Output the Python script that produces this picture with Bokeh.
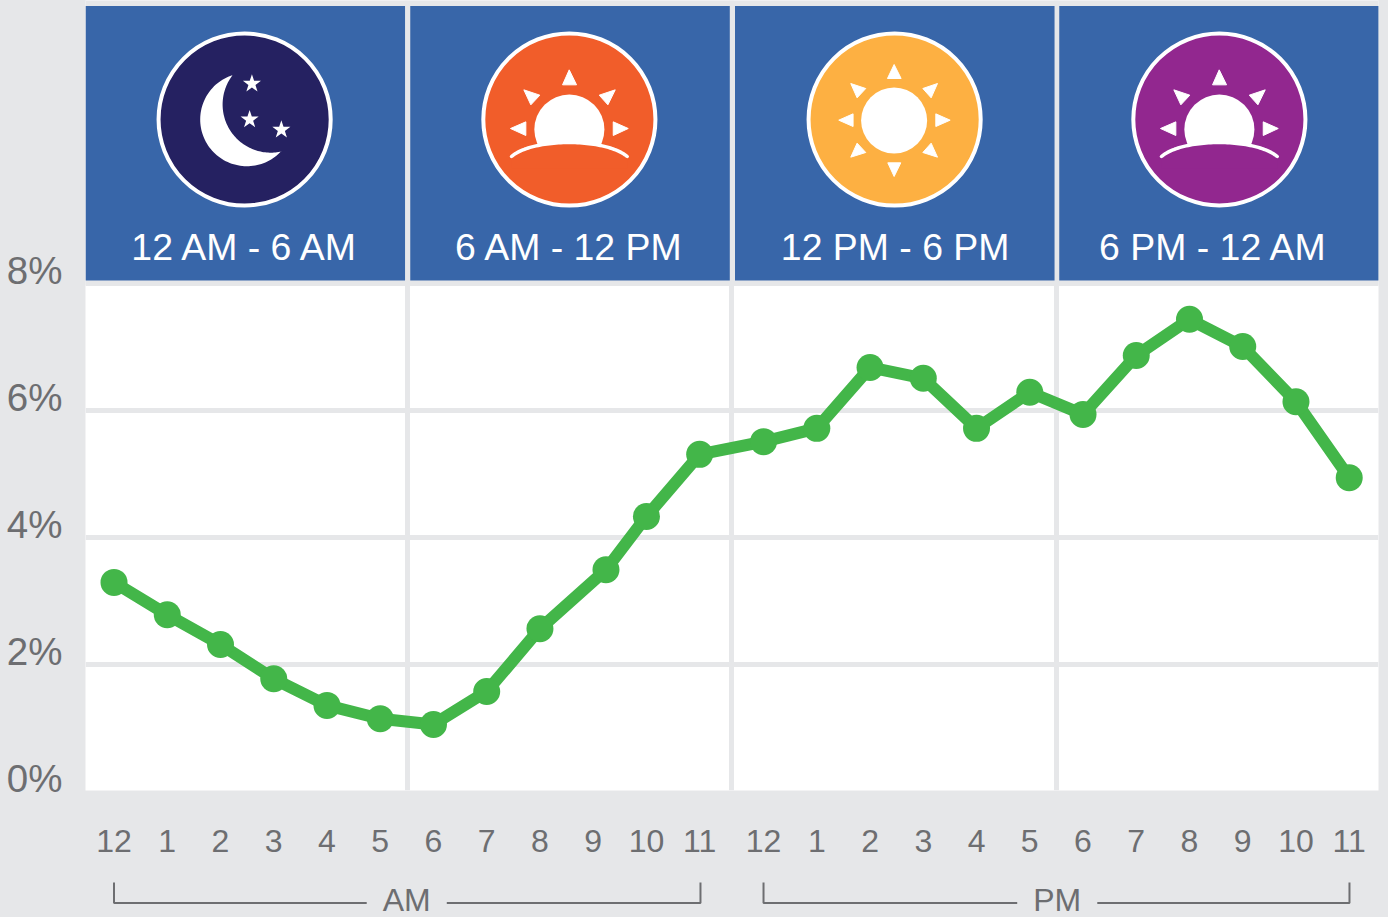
import numpy as np
from bokeh.plotting import figure
from bokeh.layouts import column
from bokeh.models import (Range1d, LinearAxis, FixedTicker, Grid)
from bokeh.core.properties import value
from bokeh.embed import file_html
from bokeh.resources import INLINE

# ---------- data ----------
hour_slots = [0, 1, 2, 3, 4, 5, 6, 7, 8, 9.24, 10, 11,
              12.2, 13.2, 14.2, 15.2, 16.2, 17.2, 18.2, 19.2, 20.2, 21.2, 22.2, 23.2]
share_pct = [3.29, 2.78, 2.31, 1.77, 1.35, 1.14, 1.05, 1.57, 2.56, 3.49, 4.33, 5.31,
             5.51, 5.72, 6.68, 6.51, 5.72, 6.29, 5.94, 6.87, 7.44, 7.01, 6.14, 4.94]
tick_slots = [0, 1, 2, 3, 4, 5, 6, 7, 8, 9, 10, 11,
              12.2, 13.2, 14.2, 15.2, 16.2, 17.2, 18.2, 19.2, 20.2, 21.2, 22.2, 23.2]
tick_labels = ["12", "1", "2", "3", "4", "5", "6", "7", "8", "9", "10", "11",
               "12", "1", "2", "3", "4", "5", "6", "7", "8", "9", "10", "11"]
y_ticks = [0, 2, 4, 6, 8]
period_labels = ["12 AM - 6 AM", "6 AM - 12 PM", "12 PM - 6 PM", "6 PM - 12 AM"]
period_colors = ["#252161", "#F15D2A", "#FDB042", "#92278F"]
period_breaks = [5.51, 11.6, 17.7]
meridiem_labels = ["AM", "PM"]

GRAY = "#E6E7E9"; BLUE = "#3866A9"; TEXT = "#6D6E71"; GREEN = "#43B649"; FONT = "Liberation Sans"

PXX, PXY = "pxx", "pxy"
x_main = Range1d((86 - 114.5) / 53.2, (1378 - 114.5) / 53.2)
p = figure(width=1388, height=870, output_backend="svg", toolbar_location=None,
           x_range=x_main,
           y_range=Range1d((790.5 - 790) / 63.4, 790.5 / 63.4),
           x_axis_location=None, y_axis_location=None,
           min_border_left=85, min_border_right=10, min_border_top=0, min_border_bottom=80,
           background_fill_color="white", border_fill_color=GRAY, outline_line_color=None)
p.extra_x_ranges = {PXX: Range1d(86, 1378)}
p.extra_y_ranges = {PXY: Range1d(790, 0), "lab": Range1d((777.5 - 790) / 63.4, 777.5 / 63.4)}

# grid
p.grid.visible = False
p.add_layout(Grid(dimension=0, ticker=FixedTicker(ticks=period_breaks), grid_line_color=GRAY, grid_line_width=5))
p.add_layout(Grid(dimension=1, ticker=FixedTicker(ticks=y_ticks[1:]), grid_line_color=GRAY, grid_line_width=5))

# axes
ax_y = LinearAxis(y_range_name="lab", ticker=FixedTicker(ticks=y_ticks),
                  major_label_overrides={v: f"{v}%" for v in y_ticks},
                  axis_line_color=None, major_tick_line_color=None, minor_tick_line_color=None,
                  major_tick_out=0, major_tick_in=0, minor_tick_out=0, minor_tick_in=0,
                  major_label_text_color=TEXT, major_label_text_font=FONT,
                  major_label_text_font_size="38.5px", major_label_standoff=23)
p.add_layout(ax_y, "left")
ax_x = LinearAxis(ticker=FixedTicker(ticks=tick_slots),
                  major_label_overrides=dict(zip(tick_slots, tick_labels)),
                  axis_line_color=None, major_tick_line_color=None, minor_tick_line_color=None,
                  major_tick_out=0, major_tick_in=0, minor_tick_out=0, minor_tick_in=0,
                  major_label_text_color=TEXT, major_label_text_font=FONT,
                  major_label_text_font_size="32px", major_label_standoff=39)
p.add_layout(ax_x, "below")

kw = dict(x_range_name=PXX, y_range_name=PXY)

# header
p.quad(left=0, right=1500, top=0, bottom=285, fill_color=GRAY, line_color=None, **kw)
lefts = [86, 410.5, 735, 1059]
centers = [245, 569.5, 894.5, 1219]
p.quad(left=lefts, right=[v + 319.3 for v in lefts], top=[5.5] * 4, bottom=[280] * 4,
       fill_color=BLUE, line_color=None, **kw)
p.circle(x=centers, y=[119] * 4, radius=86, fill_color=period_colors, line_color="white", line_width=4, **kw)
p.text(x=[246, 569.5, 895, 1213], y=[246.5] * 4, text=period_labels, text_color="white",
       text_font=value(FONT), text_font_size="37.4px", text_align="center", text_baseline="middle", **kw)


def shape(pts, ox, oy):
    a = np.array(pts, float) / 3
    return a[:, 0] + ox, a[:, 1] + oy


def tris(tlist, ox, oy):
    for t in tlist:
        xs, ys = shape(t, ox, oy)
        p.patch(xs, ys, fill_color="white", line_color="white", line_width=1, line_join="round", **kw)


# moon
ocx, ocy, orr = 247.3, 119, 46.7
icx, icy, irr = 271.2, 104, 48.2
t1, t2 = (232.7, 75), (281.7, 151)
oa1 = np.arctan2(t1[1] - ocy, t1[0] - ocx) + 2 * np.pi
oa2 = np.arctan2(t2[1] - ocy, t2[0] - ocx)
th = np.linspace(oa1, oa2, 80)
ia1 = np.arctan2(t2[1] - icy, t2[0] - icx)
ia2 = np.arctan2(t1[1] - icy, t1[0] - icx) + 2 * np.pi
ti = np.linspace(ia1, ia2, 80)
mx = np.r_[ocx + orr * np.cos(th), icx + irr * np.cos(ti)]
my = np.r_[ocy + orr * np.sin(th), icy + irr * np.sin(ti)]
p.patch(mx, my, fill_color="white", line_color=None, **kw)
for cx, cy in [(252.3, 83.3), (250, 119), (281.7, 129.3)]:
    ang = -np.pi / 2 + np.arange(10) * np.pi / 5
    rad = np.where(np.arange(10) % 2 == 0, 9.5, 3.7)
    p.patch(cx + rad * np.cos(ang), cy + rad * np.sin(ang), fill_color="white", line_color=None, **kw)

# sunrise icons
rise_rays = [[(298, 148), (278, 193), (320, 193)], [(162, 208), (210, 224), (183, 253)],
             [(436, 208), (388, 224), (414, 253)], [(122, 324), (168, 304), (168, 345)],
             [(475, 324), (430, 304), (430, 345)]]
tb = np.linspace(0, 1, 60)
hx = (1 - tb) ** 3 * 125 + 3 * (1 - tb) ** 2 * tb * 190 + 3 * (1 - tb) * tb ** 2 * 405 + tb ** 3 * 472
hy = (1 - tb) ** 3 * 408 + 3 * (1 - tb) ** 2 * tb * 352 + 3 * (1 - tb) * tb ** 2 * 352 + tb ** 3 * 408
for ox, col in [(470, period_colors[1]), (470 + 649.5, period_colors[3])]:
    tris(rise_rays, ox, 20)
    p.circle(x=[298.5 / 3 + ox], y=[327 / 3 + 20], radius=35, fill_color="white", line_color=None, **kw)
    p.patch(np.r_[hx, hx[::-1]] / 3 + ox, np.r_[hy, np.full(60, 445)] / 3 + 20, fill_color=col, line_color=None, **kw)
    p.line(hx / 3 + ox, hy / 3 + 20, line_color="white", line_width=3.5, line_cap="round", **kw)

# sun icon
sun_rays = [[(297, 132), (277, 174), (318, 174)], [(297, 468), (278, 427), (317, 427)],
            [(131, 299), (174, 280), (174, 318)], [(465, 299), (422, 280), (422, 318)],
            [(167, 189), (212, 204), (186, 232)], [(427, 189), (383, 204), (408, 232)],
            [(167, 410), (212, 396), (186, 368)], [(427, 410), (383, 396), (408, 368)]]
tris(sun_rays, 795, 20)
p.circle(x=[297 / 3 + 795], y=[300 / 3 + 20], radius=33, fill_color="white", line_color=None, **kw)

# series
p.line(hour_slots, share_pct, line_color=GREEN, line_width=12, line_join="round")
p.scatter(hour_slots, share_pct, size=27, fill_color=GREEN, line_color=None)

# AM / PM brackets: a strip below the main plot
q = figure(width=1388, height=47, output_backend="svg", toolbar_location=None,
           x_range=Range1d(86, 1378), y_range=Range1d(917, 870),
           x_axis_location=None, y_axis_location=None,
           min_border_left=85, min_border_right=10, min_border_top=0, min_border_bottom=0,
           background_fill_color=GRAY, border_fill_color=GRAY, outline_line_color=None)
q.grid.visible = False
q.line([114.5, 114.5, 367], [882, 902.5, 902.5], line_color=TEXT, line_width=2)
q.line([447, 700.5, 700.5], [902.5, 902.5, 882], line_color=TEXT, line_width=2)
q.line([763.5, 763.5, 1017], [882, 902.5, 902.5], line_color=TEXT, line_width=2)
q.line([1097, 1349, 1349], [902.5, 902.5, 882], line_color=TEXT, line_width=2)
q.text(x=[407, 1057], y=[899.5, 899.5], text=meridiem_labels, text_color=TEXT, text_font=value(FONT),
       text_font_size="32px", text_align="center", text_baseline="middle")

root = column(p, q, spacing=0,
              styles={"position": "absolute", "left": "0px", "top": "0px", "background": GRAY})
open("out.html", "w").write(file_html(root, INLINE))
